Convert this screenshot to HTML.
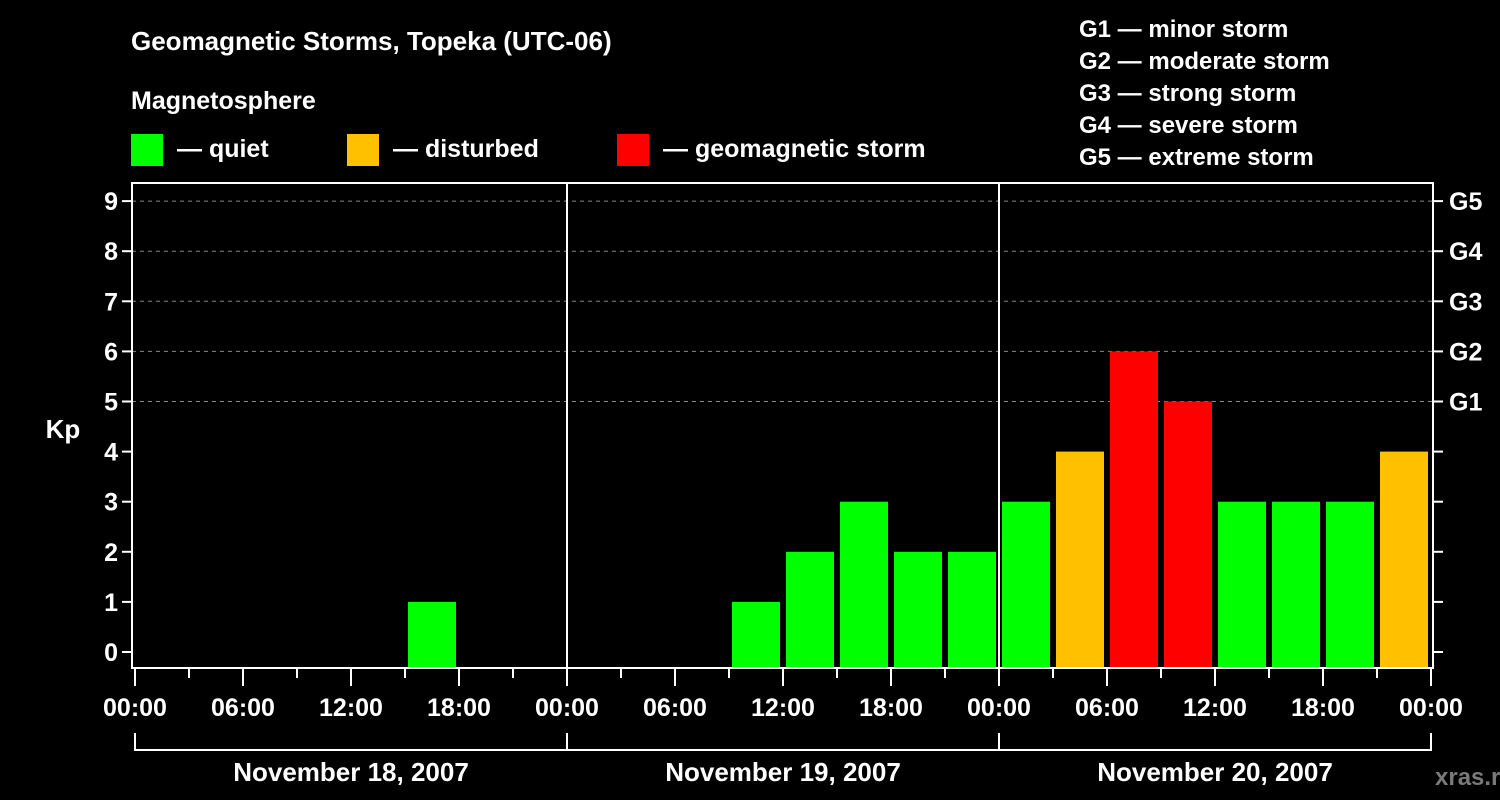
<!DOCTYPE html>
<html><head><meta charset="utf-8"><style>
html,body{margin:0;padding:0;background:#000;width:1500px;height:800px;overflow:hidden}
svg{display:block}
text{font-family:"Liberation Sans",Arial,sans-serif;font-weight:bold;fill:#fff}
</style></head><body>
<svg id="c" width="1500" height="800" viewBox="0 0 1500 800">
<text x="131" y="50" font-size="26">Geomagnetic Storms, Topeka (UTC-06)</text>
<text x="131" y="109" font-size="25">Magnetosphere</text>
<g><rect x="131" y="134" width="32" height="32" fill="#00ff00"/><text x="177" y="157" font-size="25">— quiet</text></g>
<g><rect x="347" y="134" width="32" height="32" fill="#ffc000"/><text x="393" y="157" font-size="25">— disturbed</text></g>
<g><rect x="617" y="134" width="32" height="32" fill="#ff0000"/><text x="663" y="157" font-size="25">— geomagnetic storm</text></g>
<g font-size="24">
<text x="1079" y="37">G1 — minor storm</text>
<text x="1079" y="69">G2 — moderate storm</text>
<text x="1079" y="101">G3 — strong storm</text>
<text x="1079" y="133">G4 — severe storm</text>
<text x="1079" y="165">G5 — extreme storm</text>
</g>
<text x="63" y="438" font-size="26" text-anchor="middle">Kp</text>
<text x="1435" y="785" font-size="24" fill="#888" style="fill:#7a7a7a">xras.ru</text>
<g id="grid"></g><g id="bars"></g><g id="axes"></g>
</svg>
<script>
const days = ["November 18, 2007","November 19, 2007","November 20, 2007"];
const kpDay1 = [null,null,null,null,null,1,null,null];
const kpDay2 = [null,null,null,1,2,3,2,2];
const kpDay3 = [3,4,6,5,3,3,3,4];
const hourLabels = ["00:00","06:00","12:00","18:00"];
const gLabels = ["G1","G2","G3","G4","G5"];
const NS="http://www.w3.org/2000/svg";
const L=132,R=1433,T=183,B=668,X0=135,DAYW=432,BIN=54;
const y=v=>652-v*50.1;
const x=h=>X0+h*(DAYW/24);
function mk(tag,attrs,parent){const e=document.createElementNS(NS,tag);for(const k in attrs)e.setAttribute(k,attrs[k]);parent.appendChild(e);return e;}
const grid=document.getElementById('grid'),bars=document.getElementById('bars'),axes=document.getElementById('axes');
for(let v=5;v<=9;v++){const l=mk('line',{x1:L,x2:R,y1:y(v),y2:y(v),stroke:'#888','stroke-dasharray':'4,4','stroke-width':1},grid);

}
const all=[kpDay1,kpDay2,kpDay3];
all.forEach((arr,d)=>arr.forEach((v,i)=>{if(v==null)return;
const c=v>=5?'#ff0000':(v>=4?'#ffc000':'#00ff00');
const bx=x(d*24+i*3)+3;
const r=mk('rect',{x:bx,y:y(v),width:48,height:B-y(v),fill:c},bars);

}));
// frame
const f=mk('rect',{x:L,y:T,width:R-L,height:B-T,fill:'none',stroke:'#fff','stroke-width':2},axes);


[1,2].forEach(d=>{const s=mk('line',{x1:x(d*24),x2:x(d*24),y1:T,y2:B,stroke:'#fff','stroke-width':2},axes);

});
for(let v=0;v<=9;v++){
const t=mk('line',{x1:L-10,x2:L,y1:y(v),y2:y(v),stroke:'#fff','stroke-width':2},axes);


const tx=mk('text',{x:L-14,y:y(v)+9,'font-size':25,'text-anchor':'end'},axes);tx.textContent=v;


const t2=mk('line',{x1:R,x2:R+10,y1:y(v),y2:y(v),stroke:'#fff','stroke-width':2},axes);

}
gLabels.forEach((g,i)=>{const tx=mk('text',{x:1449,y:y(i+5)+9,'font-size':25},axes);tx.textContent=g;

});
for(let h=0;h<=72;h+=3){const long=h%6==0;
const t=mk('line',{x1:x(h),x2:x(h),y1:B,y2:long?686:678,stroke:'#fff','stroke-width':2},axes);


if(long){const tx=mk('text',{x:x(h),y:716,'font-size':25,'text-anchor':'middle'},axes);tx.textContent=hourLabels[(h%24)/6];

}}
const br=mk('line',{x1:x(0),x2:x(72),y1:750,y2:750,stroke:'#fff','stroke-width':2},axes);


for(let d=0;d<=3;d++){const t=mk('line',{x1:x(d*24),x2:x(d*24),y1:733,y2:751,stroke:'#fff','stroke-width':2},axes);

}
days.forEach((s,d)=>{const tx=mk('text',{x:x(d*24+12),y:781,'font-size':26,'text-anchor':'middle'},axes);tx.textContent=s;

});
</script>
</body></html>
